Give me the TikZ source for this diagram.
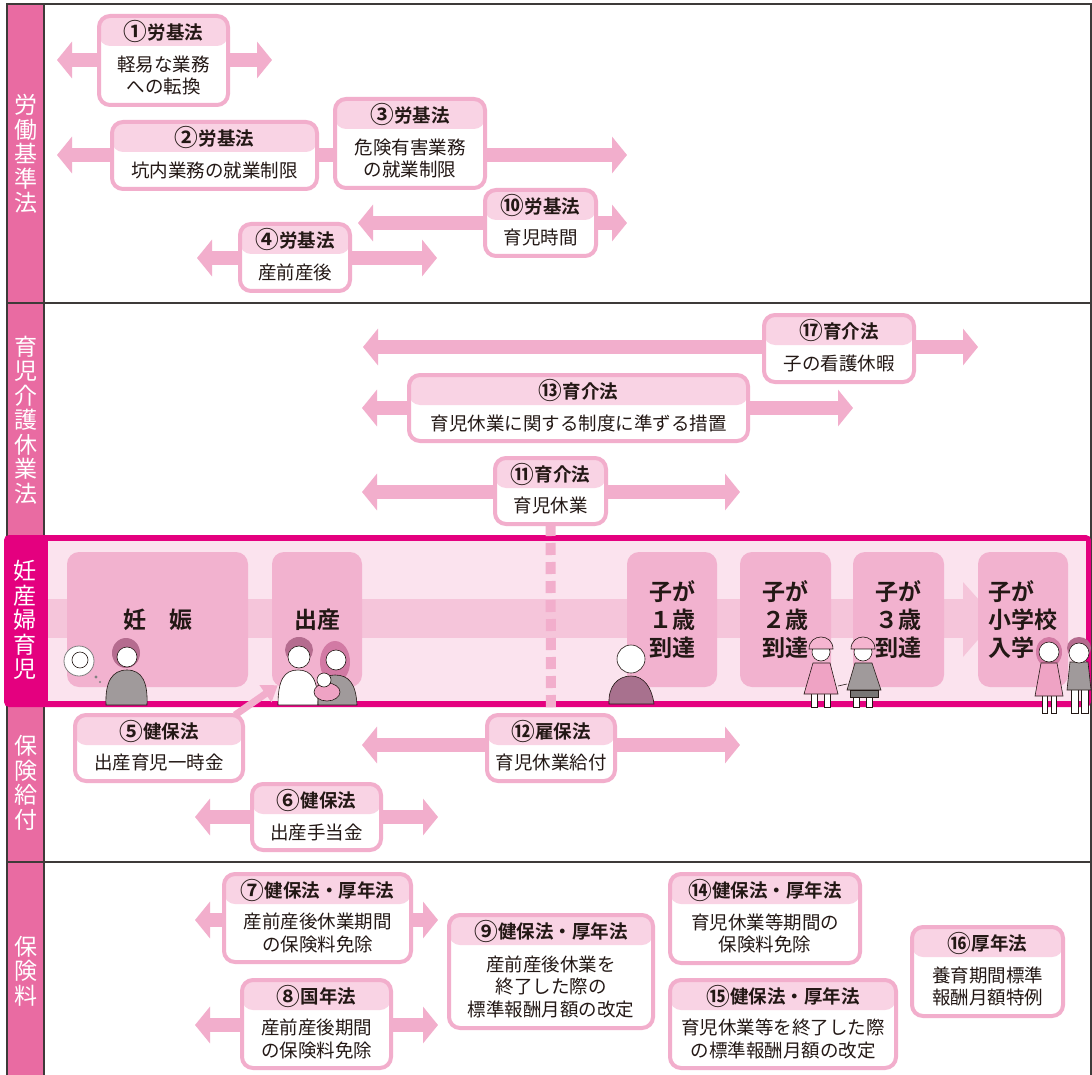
\documentclass[tikz,border=0pt]{standalone}
\usepackage{fontspec}
\setmainfont{Noto Sans CJK JP}[BoldFont={Noto Sans CJK JP Bold}]
\usetikzlibrary{arrows.meta}

\definecolor{secpink}{HTML}{E96BA2}
\definecolor{framegray}{HTML}{3E3A39}
\definecolor{magentaband}{HTML}{E4007F}
\definecolor{bandbg}{HTML}{FBE3EE}
\definecolor{stagefill}{HTML}{F2B2CF}
\definecolor{shaftpink}{HTML}{F5C5DA}
\definecolor{linepink}{HTML}{F2AECC}
\definecolor{headpink}{HTML}{F9D3E4}
\definecolor{inkdark}{HTML}{231815}
\definecolor{hairmauve}{HTML}{B56C8F}
\definecolor{hairpink}{HTML}{D27AA4}
\definecolor{bodygrey}{HTML}{A09A9B}
\definecolor{mauve}{HTML}{A8718E}
\definecolor{kidpink}{HTML}{EFA3C4}
\definecolor{hatpink}{HTML}{F5B5D0}

\pgfdeclarelayer{base}
\pgfdeclarelayer{links}
\pgfsetlayers{base,links,main}

\tikzset{
  seclabel/.style={text=white, align=center, inner sep=0pt, font=\fontsize{23}{24.5}\selectfont},
  stage/.style={fill=stagefill, rounded corners=12pt, inner sep=0pt, align=left, text=inkdark,
    font=\bfseries\fontsize{23}{28}\selectfont},
  lawframe/.style={draw=linepink, line width=4pt, fill=white, rounded corners=11pt, inner sep=0pt, outer sep=0pt,
    path picture={\fill[headpink] ([yshift=4pt]path picture bounding box.north west)
      rectangle ([yshift=-30pt]path picture bounding box.north east);}},
  lawhead/.style={inner sep=0pt, text=inkdark, font=\bfseries\fontsize{18.5}{22}\selectfont},
  lawtext/.style={inner sep=0pt, text=inkdark, align=center, font=\fontsize{18.5}{22.5}\selectfont},
  spanarrow/.style={draw=linepink, line width=14pt,
    {Triangle[width=36pt,length=15pt]}-{Triangle[width=36pt,length=15pt]}},
  dotlink/.style={draw=linepink, line width=10pt, dash pattern=on 12pt off 7pt},
  skin/.style={fill=white, draw=inkdark, line width=.6pt},
  outl/.style={draw=inkdark, line width=.6pt}
}

% circled law number, a bit larger than the glyph of the font
\newcommand\lawno[1]{\raisebox{-1.6pt}{\scalebox{1.28}{#1}}}

% law box: name, left, top, right, bottom (outer edges), header, body
\newcommand\lawbox[7]{%
  \node[lawframe, minimum width={(#4-#2-4)*1pt}, minimum height={(#5-#3-4)*1pt}] (#1) at ({(#2+#4)/2},{(#3+#5)/2}) {};
  \node[lawhead] (#1-h) at ({(#2+#4)/2},{#3+18}) {#6};
  \node[lawtext] (#1-b) at ({(#2+#4)/2},{(#3+#5)/2+15}) {#7};
}

\begin{document}
\begin{tikzpicture}[x=1pt,y=-1pt]
  \useasboundingbox (0,0) rectangle (1092,1075);

  \begin{pgfonlayer}{base}
    \fill[white] (0,0) rectangle (1092,1075);
    % left column and frame
    \fill[secpink] (7,4) rectangle (44,1075);
    \draw[framegray, line width=2pt] (7,1075) -- (7,4) -- (1091,4) -- (1091,1075);
    \draw[framegray, line width=2pt] (44,4) -- (44,1075);
    \draw[framegray, line width=2pt] (7,303) -- (1091,303);
    \draw[framegray, line width=2pt] (7,862) -- (1091,862);
    \node[seclabel] (lbl-roki) at (25.5,154) {労\\働\\基\\準\\法};
    \node[seclabel] (lbl-ikukai) at (25.5,420) {育\\児\\介\\護\\休\\業\\法};
    \node[seclabel] (lbl-kyufu) at (25.5,783) {保\\険\\給\\付};
    \node[seclabel] (lbl-ryo) at (25.5,971) {保\\険\\料};

    % pregnancy / childcare band
    \fill[magentaband, rounded corners=5pt] (4,535) rectangle (1091,707);
    \fill[bandbg] (48,541) rectangle (1086,701);
    \node[seclabel] (lbl-ninsan) at (25,620) {妊\\産\\婦\\育\\児};
    \fill[shaftpink] (48,599) rectangle (965,638);
    \fill[shaftpink] (963,582) -- (996,619) -- (963,657) -- cycle;
    \node[stage, minimum width=181pt, minimum height=135pt] (preg) at (157.5,619.5) {妊　娠};
    \node[stage, minimum width=90pt, minimum height=135pt] (birth) at (317,619.5) {出産};
    \node[stage, minimum width=90pt, minimum height=135pt] (age1) at (672,619.5) {子が\\１歳\\到達};
    \node[stage, minimum width=91pt, minimum height=135pt] (age2) at (785.5,619.5) {子が\\２歳\\到達};
    \node[stage, minimum width=91pt, minimum height=135pt] (age3) at (898.5,619.5) {子が\\３歳\\到達};
    \node[stage, minimum width=90pt, minimum height=135pt] (school) at (1023,619.5) {子が\\小学校\\入学};

    % mother-to-be with thought bubble
    \fill[hairmauve] (126,653) ellipse[x radius=14, y radius=15];
    \filldraw[fill=bodygrey, outl] (106,705) .. controls (105,682) and (112,670) .. (127,670)
      .. controls (142,670) and (148,682) .. (147,705) -- cycle;
    \filldraw[skin] (127,657) circle[radius=10];
    \filldraw[fill=white, draw=gray, line width=.8pt] (79,661) circle[radius=15];
    \draw[outl] (80,660) circle[radius=8];
    \fill[gray] (96,677) circle[radius=1.6] (100,682) circle[radius=1.1];

    % parents with newborn
    \fill[hairmauve] (299,650) ellipse[x radius=14, y radius=13];
    \filldraw[fill=white, outl] (278,705) .. controls (278,680) and (284,670) .. (298,670)
      .. controls (312,670) and (318,680) .. (318,705) -- cycle;
    \filldraw[skin] (299,657) circle[radius=11];
    \fill[hairpink] (335,662) ellipse[x radius=15, y radius=21];
    \filldraw[fill=bodygrey, outl] (318,705) .. controls (318,684) and (322,675) .. (335,675)
      .. controls (349,675) and (356,684) .. (357,705) -- cycle;
    \filldraw[skin] (336,660) circle[radius=10];
    \filldraw[fill=kidpink, outl] (327,692) ellipse[x radius=13, y radius=9];
    \filldraw[skin] (324,680) circle[radius=7];

    % sitting baby
    \filldraw[fill=mauve, outl] (609,704) .. controls (608,686) and (618,676) .. (631,676)
      .. controls (644,676) and (652,688) .. (654,704) -- cycle;
    \filldraw[skin] (631,659) circle[radius=14];

    % toddlers holding hands
    \filldraw[fill=white, outl] (811,692) rectangle (817,707) (824,692) rectangle (830,707);
    \filldraw[fill=kidpink, outl] (813,663) -- (830,663) -- (838,694) -- (804,694) -- cycle;
    \filldraw[skin] (821,652) circle[radius=9];
    \filldraw[fill=hatpink, outl] (809,649) .. controls (809,633) and (833,633) .. (833,649) -- cycle;
    \filldraw[fill=white, outl] (853,696) rectangle (859,707) (866,696) rectangle (872,707);
    \filldraw[fill=bodygrey, outl] (855,663) -- (872,663) -- (881,690) -- (847,690) -- cycle;
    \filldraw[fill=framegray!70, outl] (850,690) rectangle (878,697);
    \filldraw[skin] (863,652) circle[radius=9];
    \filldraw[fill=hatpink, outl] (851,649) .. controls (851,633) and (875,633) .. (875,649) -- cycle;
    \draw[outl] (838,686) -- (847,684);

    % pupils
    \fill[hairpink] (1049,652) ellipse[x radius=13, y radius=15];
    \filldraw[fill=white, outl] (1042,694) rectangle (1047,713) (1051,694) rectangle (1056,713);
    \filldraw[fill=kidpink, outl] (1041,663) -- (1057,663) -- (1063,696) -- (1035,696) -- cycle;
    \filldraw[skin] (1049,652) circle[radius=10];
    \fill[hairmauve] (1079,648) ellipse[x radius=12, y radius=11];
    \filldraw[fill=white, outl] (1071,688) rectangle (1078,713) (1081,688) rectangle (1088,713);
    \filldraw[fill=bodygrey, outl] (1070,662) -- (1088,662) -- (1091,690) -- (1067,690) -- cycle;
    \filldraw[skin] (1079,653) circle[radius=10];
  \end{pgfonlayer}

  % 労働基準法
  \lawbox{b1}{97}{14}{230}{107}{\lawno{①}労基法}{軽易な業務\\への転換}
  \lawbox{b2}{110}{120}{319}{191}{\lawno{②}労基法}{坑内業務の就業制限}
  \lawbox{b3}{333}{97}{487}{190}{\lawno{③}労基法}{危険有害業務\\の就業制限}
  \lawbox{b10}{483}{188}{598}{258}{\lawno{⑩}労基法}{育児時間}
  \lawbox{b4}{238}{222}{352}{293}{\lawno{④}労基法}{産前産後}
  % 育児介護休業法
  \lawbox{b17}{762}{313}{916}{384}{\lawno{⑰}育介法}{子の看護休暇}
  \lawbox{b13}{407}{373}{750}{443}{\lawno{⑬}育介法}{育児休業に関する制度に準ずる措置}
  \lawbox{b11}{493}{456}{608}{526}{\lawno{⑪}育介法}{育児休業}
  % 保険給付
  \lawbox{b5}{73}{713}{245}{783}{\lawno{⑤}健保法}{出産育児一時金}
  \lawbox{b12}{485}{713}{617}{783}{\lawno{⑫}雇保法}{育児休業給付}
  \lawbox{b6}{250}{782}{383}{852}{\lawno{⑥}健保法}{出産手当金}
  % 保険料
  \lawbox{b7}{222}{872}{413}{964}{\lawno{⑦}健保法・厚年法}{産前産後休業期間\\の保険料免除}
  \lawbox{b8}{240}{978}{393}{1070}{\lawno{⑧}国年法}{産前産後期間\\の保険料免除}
  \lawbox{b9}{447}{913}{655}{1030}{\lawno{⑨}健保法・厚年法}{産前産後休業を\\終了した際の\\標準報酬月額の改定}
  \lawbox{b14}{668}{872}{862}{965}{\lawno{⑭}健保法・厚年法}{育児休業等期間の\\保険料免除}
  \lawbox{b15}{668}{978}{898}{1070}{\lawno{⑮}健保法・厚年法}{育児休業等を終了した際\\の標準報酬月額の改定}
  \lawbox{b16}{910}{925}{1065}{1018}{\lawno{⑯}厚年法}{養育期間標準\\報酬月額特例}

  \begin{pgfonlayer}{links}
    % periods covered
    \coordinate (r1w) at (57,60);    \coordinate (r1e) at (272,60);
    \coordinate (r2w) at (57,155);   \coordinate (r3e) at (627,155);
    \coordinate (r10w) at (358,223); \coordinate (r10e) at (627,223);
    \coordinate (r4w) at (197,258);  \coordinate (r4e) at (437,258);
    \coordinate (r17w) at (363,347); \coordinate (r17e) at (978,347);
    \coordinate (r13w) at (362,408); \coordinate (r13e) at (853,408);
    \coordinate (r11w) at (362,492); \coordinate (r11e) at (740,492);
    \coordinate (r12w) at (362,745); \coordinate (r12e) at (740,745);
    \coordinate (r6w) at (195,817);  \coordinate (r6e) at (438,817);
    \coordinate (r7w) at (195,920);  \coordinate (r7e) at (438,920);
    \coordinate (r8w) at (195,1025); \coordinate (r8e) at (438,1025);
    \draw[spanarrow] (r1w) -- (r1e);
    \draw[spanarrow] (r2w) -- (r3e);
    \draw[spanarrow] (r10w) -- (r10e);
    \draw[spanarrow] (r4w) -- (r4e);
    \draw[spanarrow] (r17w) -- (r17e);
    \draw[spanarrow] (r13w) -- (r13e);
    \draw[spanarrow] (r11w) -- (r11e);
    \draw[spanarrow] (r12w) -- (r12e);
    \draw[spanarrow] (r6w) -- (r6e);
    \draw[spanarrow] (r7w) -- (r7e);
    \draw[spanarrow] (r8w) -- (r8e);
    \draw[linepink, line width=7pt, -{Triangle[width=20pt,length=15pt]}]
      ([xshift=-8pt]b5.north east) -- ([xshift=6pt,yshift=2pt]birth.south west);
    \draw[dotlink] (b11.south) -- (b12.north);
  \end{pgfonlayer}
\end{tikzpicture}
\end{document}
